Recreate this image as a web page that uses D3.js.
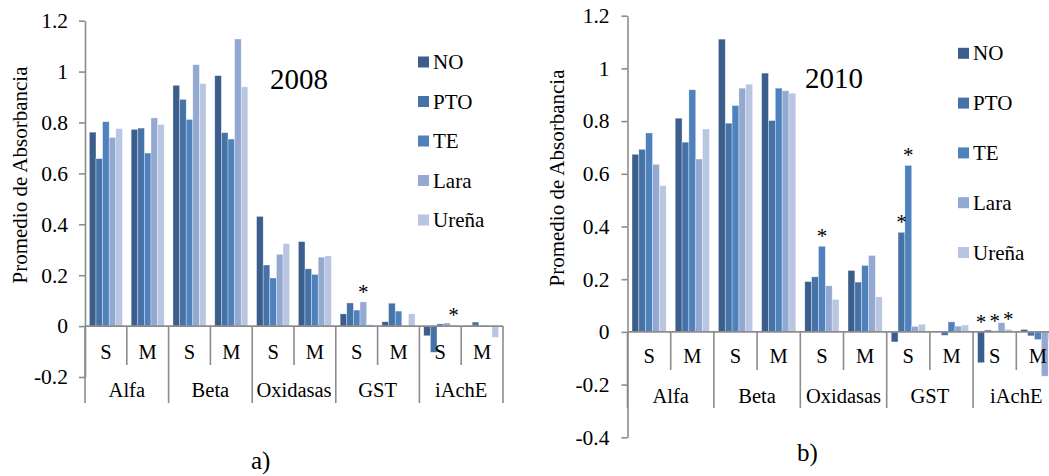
<!DOCTYPE html>
<html>
<head>
<meta charset="utf-8">
<script src="https://cdn.jsdelivr.net/npm/d3@7"></script>
<style>
  html, body { margin: 0; padding: 0; background: #fff; }
  svg { display: block; }
</style>
</head>
<body>
<div id="chart"></div>
<script>
// categories
const groups = ["Alfa", "Beta", "Oxidasas", "GST", "iAchE"];
const subs = ["S", "M"];
const seriesNames = ["NO", "PTO", "TE", "Lara", "Ureña"];
const seriesColors = ["#3b5e8c", "#4572a7", "#4f81bd", "#93a9d2", "#b9c6e2"];

// values per category, order: Alfa S, Alfa M, Beta S, Beta M, Oxidasas S, ... iAchE M
const v2008NO    = [0.762, 0.773, 0.946, 0.984, 0.431, 0.332, 0.048, 0.017, -0.038, 0.002];
const v2008PTO   = [0.658, 0.778, 0.891, 0.760, 0.240, 0.225, 0.091, 0.090, -0.103, 0.016];
const v2008TE    = [0.803, 0.680, 0.812, 0.735, 0.189, 0.203, 0.063, 0.059, 0.009, 0.002];
const v2008Lara  = [0.741, 0.818, 1.027, 1.128, 0.282, 0.271, 0.095, 0.000, 0.012, 0.000];
const v2008Urena = [0.776, 0.792, 0.953, 0.940, 0.324, 0.276, 0.006, 0.048, 0.004, -0.044];

const v2010NO    = [0.674, 0.811, 1.111, 0.982, 0.191, 0.233, -0.038, 0.000, -0.117, 0.009];
const v2010PTO   = [0.693, 0.720, 0.792, 0.802, 0.209, 0.189, 0.378, -0.013, 0.007, -0.015];
const v2010TE    = [0.755, 0.919, 0.859, 0.925, 0.325, 0.252, 0.632, 0.038, 0.004, -0.029];
const v2010Lara  = [0.636, 0.656, 0.925, 0.915, 0.175, 0.290, 0.021, 0.022, 0.035, -0.168];
const v2010Urena = [0.555, 0.770, 0.940, 0.906, 0.123, 0.133, 0.029, 0.026, 0.010, -0.030];

// significance marks: [category index, series]
const stars2008 = [[6, "Lara"], [8, "Ureña"]];
const stars2010 = [[4, "TE"], [6, "PTO"], [6, "TE"], [8, "NO"], [8, "TE"], [8, "Ureña"]];

const ticks2008 = [-0.2, 0, 0.2, 0.4, 0.6, 0.8, 1, 1.2];
const ticks2010 = [-0.4, -0.2, 0, 0.2, 0.4, 0.6, 0.8, 1, 1.2];

const width = 1049, height = 476;
const axisColor = "#8c8c8c";
const fontSize = 20.5;
const serif = "'Liberation Serif', 'Times New Roman', serif";

const svg = d3.select("#chart").append("svg")
  .attr("width", width)
  .attr("height", height)
  .attr("viewBox", [0, 0, width, height])
  .attr("font-family", serif);

const categories = groups.flatMap(g => subs.map(s => g + "|" + s));

function drawPanel(cfg) {
  const g = svg.append("g");

  const x0 = d3.scaleBand()
    .domain(categories)
    .range([cfg.left, cfg.right])
    .padding(0);

  const x1 = d3.scaleBand()
    .domain(seriesNames)
    .range([0, x0.bandwidth()])
    .paddingInner(0)
    .paddingOuter(0.66);

  const y = d3.scaleLinear()
    .domain([cfg.ticks[0], cfg.ticks[cfg.ticks.length - 1]])
    .range([cfg.bottom, cfg.top]);

  const color = d3.scaleOrdinal().domain(seriesNames).range(seriesColors);

  const rows = [];
  categories.forEach((c, i) => {
    seriesNames.forEach((s, j) => rows.push({ cat: c, i, key: s, value: cfg.values[j][i] }));
  });

  // bars
  g.append("g")
    .selectAll("rect")
    .data(rows)
    .join("rect")
      .attr("x", d => x0(d.cat) + x1(d.key))
      .attr("y", d => y(Math.max(0, d.value)))
      .attr("width", x1.bandwidth())
      .attr("height", d => Math.abs(y(d.value) - y(0)))
      .attr("fill", d => color(d.key))
      .attr("stroke", "#fff")
      .attr("stroke-opacity", 0.55)
      .attr("stroke-width", 0.6);

  // y axis
  g.append("g")
    .attr("transform", `translate(${cfg.left},0)`)
    .call(d3.axisLeft(y)
      .tickValues(cfg.ticks)
      .tickFormat(d => String(+d.toFixed(1)))
      .tickSize(6)
      .tickSizeOuter(0)
      .tickPadding(cfg.tickPad))
    .attr("font-family", serif)
    .attr("font-size", 21.5)
    .call(a => a.select(".domain").attr("stroke", axisColor).attr("stroke-width", 1.6))
    .call(a => a.selectAll(".tick line").attr("stroke", axisColor).attr("stroke-width", 1.6));

  // category axis
  const y0 = y(0);
  const cat = g.append("g").attr("stroke", axisColor).attr("stroke-width", 1.6);
  cat.append("line")
    .attr("x1", cfg.left).attr("x2", cfg.right)
    .attr("y1", y0).attr("y2", y0);
  cat.selectAll(".sep")
    .data(d3.range(categories.length + 1))
    .join("line")
      .attr("x1", i => cfg.left + i * x0.step())
      .attr("x2", i => cfg.left + i * x0.step())
      .attr("y1", y0)
      .attr("y2", i => i % 2 === 0 ? cfg.groupLineEnd : cfg.subLineEnd);

  g.append("g")
    .selectAll("text")
    .data(categories)
    .join("text")
      .attr("x", c => x0(c) + x0.bandwidth() / 2)
      .attr("y", cfg.subBase)
      .attr("text-anchor", "middle")
      .attr("font-size", fontSize)
      .text(c => c.split("|")[1]);

  g.append("g")
    .selectAll("text")
    .data(groups)
    .join("text")
      .attr("x", d => x0(d + "|S") + x0.step())
      .attr("y", cfg.groupBase)
      .attr("text-anchor", "middle")
      .attr("font-size", fontSize)
      .text(d => d);

  // significance asterisks
  g.append("g")
    .selectAll("text")
    .data(cfg.stars)
    .join("text")
      .attr("x", d => x0(categories[d[0]]) + x1(d[1]) + x1.bandwidth() / 2)
      .attr("y", d => y(Math.max(0, cfg.values[seriesNames.indexOf(d[1])][d[0]])) - 3)
      .attr("text-anchor", "middle")
      .attr("font-size", 21)
      .text("*");

  // axis title
  g.append("text")
    .attr("transform", `translate(${cfg.titleX},${cfg.titleY}) rotate(-90)`)
    .attr("text-anchor", "middle")
    .attr("font-size", 21)
    .text("Promedio de Absorbancia");

  // year
  g.append("text")
    .attr("x", cfg.yearX)
    .attr("y", cfg.yearY)
    .attr("font-size", 29)
    .text(cfg.year);

  // legend
  const leg = g.append("g")
    .selectAll("g")
    .data(seriesNames)
    .join("g")
      .attr("transform", (d, i) => `translate(${cfg.legX},${cfg.legY + i * cfg.legStep})`);
  leg.append("rect")
    .attr("x", 0).attr("y", -5.5)
    .attr("width", 11).attr("height", 11)
    .attr("fill", d => color(d));
  leg.append("text")
    .attr("x", 15)
    .attr("dy", "0.34em")
    .attr("font-size", 21)
    .text(d => d);

  // panel tag
  g.append("text")
    .attr("x", cfg.tagX)
    .attr("y", cfg.tagY)
    .attr("font-size", 25)
    .text(cfg.tag);

  g.selectAll("text").style("font-family", serif).attr("fill", "#000");
}

drawPanel({
  values: [v2008NO, v2008PTO, v2008TE, v2008Lara, v2008Urena],
  stars: stars2008, ticks: ticks2008, year: "2008", tag: "a)",
  left: 85, right: 503, top: 20.7, bottom: 377, tickPad: 11,
  subLineEnd: 365, groupLineEnd: 403, subBase: 359, groupBase: 397,
  titleX: 27, titleY: 175, yearX: 270, yearY: 89,
  legX: 418, legY: 62, legStep: 39.5, tagX: 251, tagY: 469
});

drawPanel({
  values: [v2010NO, v2010PTO, v2010TE, v2010Lara, v2010Urena],
  stars: stars2010, ticks: ticks2010, year: "2010", tag: "b)",
  left: 627.5, right: 1059.5, top: 15.7, bottom: 437.3, tickPad: 12,
  subLineEnd: 370, groupLineEnd: 408, subBase: 363, groupBase: 402.5,
  titleX: 564, titleY: 178, yearX: 805, yearY: 88,
  legX: 958, legY: 53.3, legStep: 49.8, tagX: 797, tagY: 461
});
</script>
</body>
</html>
